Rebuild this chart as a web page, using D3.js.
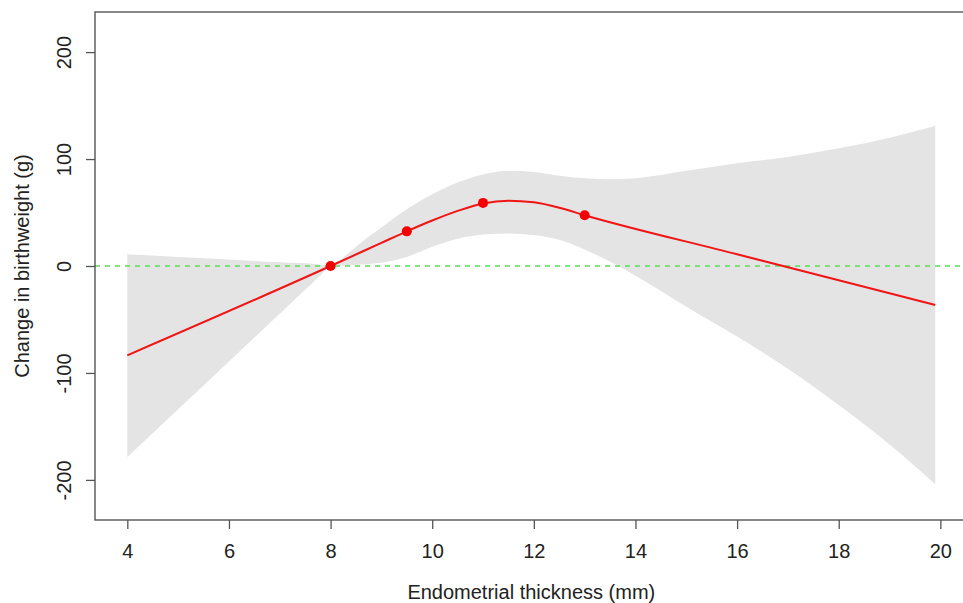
<!DOCTYPE html>
<html lang="en">
<head>
  <meta charset="UTF-8">
  <title>Endometrial thickness vs birthweight</title>
  <script src="https://d3js.org/d3.v7.min.js"></script>
  <style>
    body { margin: 0; background: #ffffff; }
    svg { display: block; font-family: "Liberation Sans", Arial, sans-serif; }
  </style>
</head>
<body>
  <script>
    // fitted curve (restricted cubic spline, ref = 8 mm)
    const fitX = [4, 8, 9, 9.5, 10, 10.5, 11, 11.5, 12, 12.5, 13, 16, 17, 19.9];
    const fitY = [-83.5, 0, 21.6, 32.4, 42.5, 51.5, 58.5, 61, 59.5, 54.5, 47.5, 11, -1.2, -36.5];

    // 95% CI band
    const bandX = [4, 5, 6, 7, 7.8, 8, 8.3, 8.6, 9, 9.5, 10, 10.5, 11, 11.5, 12, 12.5, 13, 13.5, 14, 15, 16, 17, 18, 19, 19.9];
    const bandLo = [-178.7, -134, -89.3, -44.6, -8.9, 0, 0.5, 1.5, 3, 8.5, 18, 25.5, 29.5, 30.5, 29, 24.5, 15.5, 4, -9, -38, -66, -96, -130, -167, -204];
    const bandHi = [11, 8.5, 6, 3.5, 1.5, 0, 10, 22, 36, 53, 67, 78, 85.5, 89, 88, 84.5, 82, 81, 82, 89, 96, 102, 110, 120, 131];

    // knots shown as points
    const knotX = [8, 9.5, 11, 13];
    const knotY = [0, 32.4, 59, 47.5];

    const xTicks = [4, 6, 8, 10, 12, 14, 16, 18, 20];
    const yTicks = [-200, -100, 0, 100, 200];

    const W = 963, H = 603;
    const plotL = 95, plotR = 967.6, plotT = 12, plotB = 520;

    const x = d3.scaleLinear().domain([3.364, 20.536]).range([plotL, plotR]);
    const y = d3.scaleLinear().domain([-237.5, 237.5]).range([plotB, plotT]);

    const svg = d3.select("body").append("svg")
        .attr("width", W)
        .attr("height", H);

    const band = bandX.map((v, i) => ({x: v, lo: bandLo[i], hi: bandHi[i]}));
    const fit = fitX.map((v, i) => ({x: v, y: fitY[i]}));
    const knots = knotX.map((v, i) => ({x: v, y: knotY[i]}));

    svg.append("path")
        .datum(band)
        .attr("fill", "#e4e4e4")
        .attr("d", d3.area()
          .x(d => x(d.x))
          .y0(d => y(d.lo))
          .y1(d => y(d.hi))
          .curve(d3.curveMonotoneX));

    // reference line at 0
    svg.append("line")
        .attr("x1", plotL).attr("x2", plotR)
        .attr("y1", y(0)).attr("y2", y(0))
        .attr("stroke", "#5edc55")
        .attr("stroke-width", 1.5)
        .attr("stroke-dasharray", "5,5");

    svg.append("path")
        .datum(fit)
        .attr("fill", "none")
        .attr("stroke", "#f01515")
        .attr("stroke-width", 2)
        .attr("d", d3.line()
          .x(d => x(d.x))
          .y(d => y(d.y))
          .curve(d3.curveMonotoneX));

    svg.append("g")
      .selectAll("circle")
      .data(knots)
      .join("circle")
        .attr("cx", d => x(d.x))
        .attr("cy", d => y(d.y))
        .attr("r", 5)
        .attr("fill", "#f50000");

    // box
    svg.append("rect")
        .attr("x", plotL).attr("y", plotT)
        .attr("width", plotR - plotL).attr("height", plotB - plotT)
        .attr("fill", "none")
        .attr("stroke", "#555")
        .attr("stroke-width", 1.4);

    const xAxis = svg.append("g")
        .attr("transform", `translate(0,${plotB})`)
        .call(d3.axisBottom(x).tickValues(xTicks).tickSize(9).tickPadding(15).tickFormat(d => String(d)));
    xAxis.select(".domain").remove();

    const yAxis = svg.append("g")
        .attr("transform", `translate(${plotL},0)`)
        .call(d3.axisLeft(y).tickValues(yTicks).tickSize(9).tickFormat(d => String(d)));
    yAxis.select(".domain").remove();
    yAxis.selectAll(".tick text")
        .attr("transform", "rotate(-90)")
        .attr("x", 0)
        .attr("y", -31)
        .attr("dy", "0.35em")
        .attr("text-anchor", "middle");

    svg.selectAll(".tick line").attr("stroke", "#555").attr("stroke-width", 1.3);
    svg.selectAll(".tick text")
        .attr("fill", "#222")
        .style("font-size", "20px")
        .style("font-family", "\"Liberation Sans\", Arial, sans-serif");

    svg.append("text")
        .attr("x", (plotL + plotR) / 2)
        .attr("y", 599)
        .attr("text-anchor", "middle")
        .attr("fill", "#222")
        .style("font-size", "20px")
        .text("Endometrial thickness (mm)");

    svg.append("text")
        .attr("transform", `translate(29,${(plotT + plotB) / 2}) rotate(-90)`)
        .attr("text-anchor", "middle")
        .attr("fill", "#222")
        .style("font-size", "20px")
        .text("Change in birthweight (g)");
  </script>
</body>
</html>
